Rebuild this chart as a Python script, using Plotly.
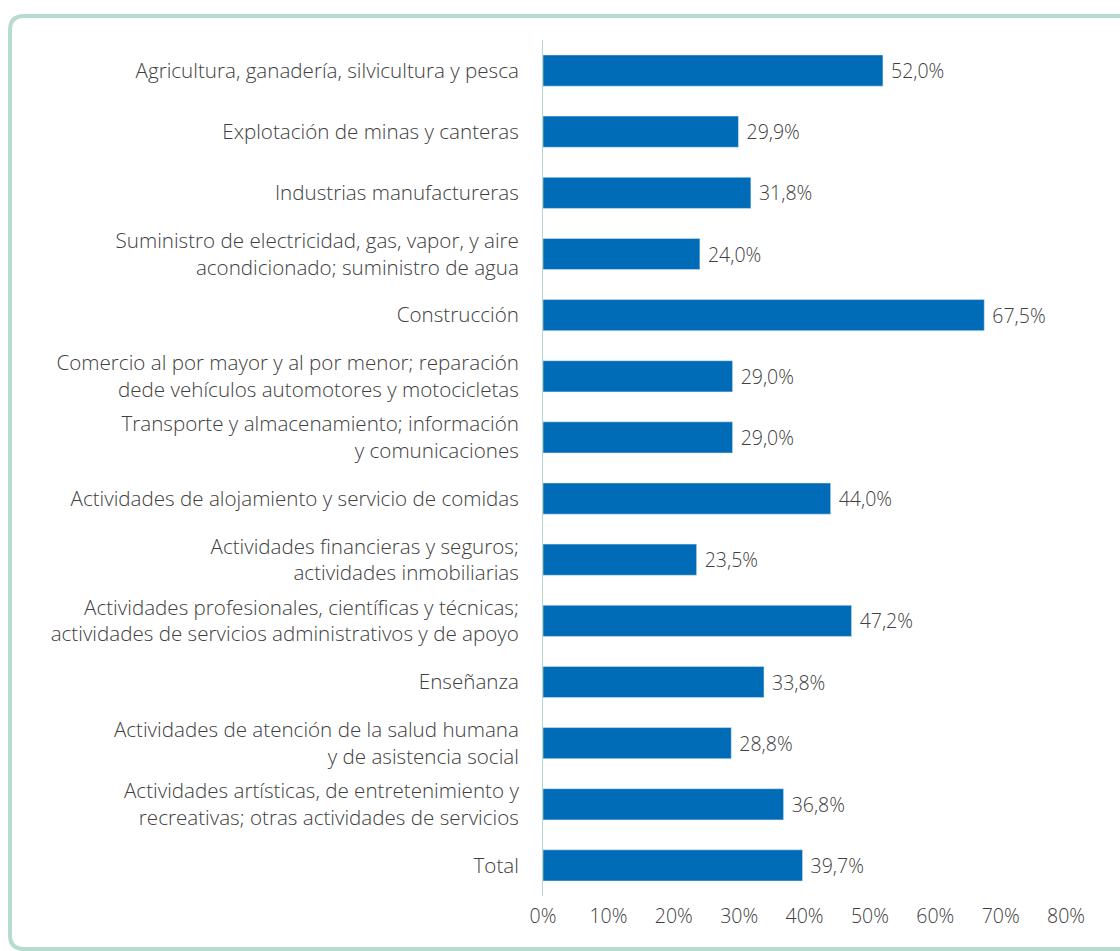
import plotly.graph_objects as go

categories = [
    "Agricultura, ganadería, silvicultura y pesca",
    "Explotación de minas y canteras",
    "Industrias manufactureras",
    "Suministro de electricidad, gas, vapor, y aire<br>acondicionado; suministro de agua",
    "Construcción",
    "Comercio al por mayor y al por menor; reparación<br>dede vehículos automotores y motocicletas",
    "Transporte y almacenamiento; información<br>y comunicaciones",
    "Actividades de alojamiento y servicio de comidas",
    "Actividades financieras y seguros;<br>actividades inmobiliarias",
    "Actividades profesionales, científicas y técnicas;<br>actividades de servicios administrativos y de apoyo",
    "Enseñanza",
    "Actividades de atención de la salud humana<br>y de asistencia social",
    "Actividades artísticas, de entretenimiento y<br>recreativas; otras actividades de servicios",
    "Total",
]
values = [52.0, 29.9, 31.8, 24.0, 67.5, 29.0, 29.0, 44.0, 23.5, 47.2, 33.8, 28.8, 36.8, 39.7]
tick_values = [0, 10, 20, 30, 40, 50, 60, 70, 80]
tick_text = [f"{v}%" for v in tick_values]

W, H = 1120, 951
L, R, T, B = 543, 54, 40, 55
pw, ph = W - L - R, H - T - B

def px(x):
    return (x - L) / pw

def py(y):
    return (H - B - y) / ph

FONT = "Open Sans"
FS = 19.5
FSY = 20.6
TXT = "#404040"
BAR = "#006cb7"
BORDER = "#b7dccf"

fig = go.Figure(go.Bar(
    y=categories, x=values, orientation="h",
    marker_color=BAR,
    texttemplate="\u00a0%{x:.1f}%", textposition="outside",
    textfont=dict(family=FONT, size=FS, color=TXT, weight=300),
    cliponaxis=False,
))

# rounded border (pixel geometry converted to paper coords)
x0, y0, x1, y1, r = 10, 16, 1140, 949, 14
path = (f"M {px(x0)},{py(y0 + r)} Q {px(x0)},{py(y0)} {px(x0 + r)},{py(y0)} "
        f"L {px(x1)},{py(y0)} "
        f"M {px(x0)},{py(y0 + r)} L {px(x0)},{py(y1 - r)} "
        f"Q {px(x0)},{py(y1)} {px(x0 + r)},{py(y1)} L {px(x1)},{py(y1)}")
fig.add_shape(type="path", xref="paper", yref="paper", path=path,
              line=dict(color=BORDER, width=4), layer="below")

fig.update_layout(
    width=W, height=H,
    margin=dict(l=L, r=R, t=T, b=B),
    paper_bgcolor="white", plot_bgcolor="white",
    separators=",.",
    bargap=0.49,
    showlegend=False,
    font=dict(family=FONT, size=FS, color=TXT, weight=300),
    xaxis=dict(range=[0, 80], tickvals=tick_values, ticktext=tick_text,
               showgrid=False, zeroline=False, showline=False,
               ticks="", ticklabelstandoff=6,
               tickfont=dict(family=FONT, size=FS, color=TXT, weight=300)),
    yaxis=dict(autorange="reversed", showgrid=False, zeroline=False,
               showline=True, linecolor="#b9d6cc", linewidth=1,
               ticks="", ticklabelstandoff=19,
               tickfont=dict(family=FONT, size=FSY, color=TXT, weight=300)),
)

fig.write_html("out.html", config={"displayModeBar": False},
               post_script="document.body.style.margin='0';document.body.style.overflow='hidden';")
